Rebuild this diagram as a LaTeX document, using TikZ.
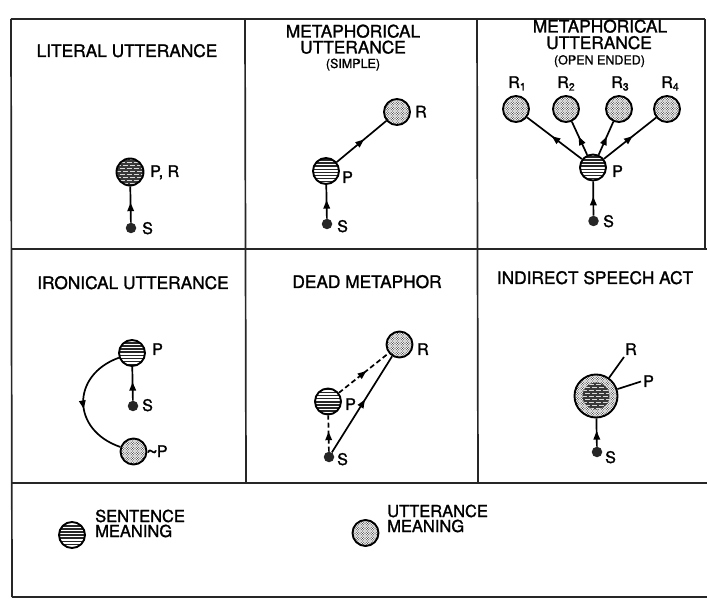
\documentclass[tikz,border=0pt]{standalone}
\usepackage{fontspec}
\setmainfont{TeX Gyre Heros}[FakeBold=1.4]
\usetikzlibrary{arrows.meta,decorations.markings,patterns}

% horizontal stripes for sentence meaning
\pgfdeclarepatternformonly{hstripes}{\pgfpointorigin}{\pgfqpoint{100pt}{1.5pt}}{\pgfqpoint{100pt}{3.1pt}}{%
  \pgfsetlinewidth{1.5pt}%
  \pgfpathmoveto{\pgfqpoint{0pt}{0.75pt}}\pgfpathlineto{\pgfqpoint{100pt}{0.75pt}}\pgfusepath{stroke}}
% staggered short dashes (light on dark)
\pgfdeclarepatternformonly{wdash}{\pgfpointorigin}{\pgfqpoint{7pt}{4pt}}{\pgfqpoint{7pt}{6pt}}{%
  \pgfsetlinewidth{1pt}%
  \pgfpathmoveto{\pgfqpoint{0.5pt}{0.5pt}}\pgfpathlineto{\pgfqpoint{5.5pt}{0.5pt}}%
  \pgfpathmoveto{\pgfqpoint{0pt}{3.5pt}}\pgfpathlineto{\pgfqpoint{2pt}{3.5pt}}%
  \pgfpathmoveto{\pgfqpoint{4pt}{3.5pt}}\pgfpathlineto{\pgfqpoint{7pt}{3.5pt}}%
  \pgfusepath{stroke}}
% dotted mesh for utterance meaning
\pgfdeclarepatternformonly{dotmesh}{\pgfqpoint{-1pt}{-1pt}}{\pgfqpoint{3pt}{3pt}}{\pgfqpoint{2.5pt}{2.5pt}}{%
  \pgfpathcircle{\pgfqpoint{0pt}{0pt}}{0.65pt}%
  \pgfpathcircle{\pgfqpoint{1.25pt}{1.25pt}}{0.65pt}%
  \pgfusepath{fill}}

\tikzset{
  frame/.style={line width=1.7pt, black!85},
  sent/.style={circle, draw, line width=1.9pt, minimum size=26pt, inner sep=0pt, pattern=hstripes, pattern color=black!85},
  sentdark/.style={circle, draw, line width=1.9pt, minimum size=27pt, inner sep=0pt,
    preaction={fill=black!78}, pattern=wdash, pattern color=white!85!black},
  utt/.style={circle, draw, line width=1.9pt, minimum size=26pt, inner sep=0pt, pattern=dotmesh, pattern color=black!72},
  sdot/.style={circle, fill=black!85, inner sep=0pt, minimum size=10.5pt},
  lbl/.style={font=\fontsize{16}{16}\selectfont, inner sep=0pt, anchor=base west},
  ttl/.style={font=\fontsize{17.3}{16}\selectfont, inner sep=0pt, anchor=base},
  subttl/.style={font=\fontsize{12.5}{12}\selectfont, inner sep=0pt, anchor=base},
  legtxt/.style={font=\fontsize{16.5}{15}\selectfont, inner sep=0pt, anchor=base west, align=left},
  link/.style={line width=1.7pt, postaction=decorate,
    decoration={markings, mark=at position 0.55 with {\arrow{Triangle[length=8.5pt,width=6.5pt]}}}},
  plain/.style={line width=1.7pt},
  dashlink/.style={link, dash pattern=on 5pt off 3pt}
}
\newcommand{\Rsub}[1]{R\raisebox{-2.5pt}{\fontsize{10.5}{10}\selectfont #1}}

\begin{document}
\begin{tikzpicture}[x=1pt, y=-1pt]
\useasboundingbox (0,0) rectangle (707,601);

% ---- frame ----
\draw[frame] (11,19) -- (705,19);
\draw[frame] (705,19) -- (705,249);
\draw[frame] (11,19) -- (12,597);
\draw[frame] (12,597) -- (707,597);
\draw[frame] (11,249) -- (707,249);
\draw[frame] (12,483) -- (707,483);
\draw[frame] (245,19) -- (246,483);
\draw[frame] (477,19) -- (478,483);

% ---- literal utterance ----
\node[ttl] (t1) at (127,57) {LITERAL UTTERANCE};
\node[sentdark] (a-p) at (130,172) {};
\node[sdot] (a-s) at (131,228) {};
\node[lbl] (a-pl) at (150,177) {P, R};
\node[lbl] (a-sl) at (142,234) {S};
\draw[link] (a-s) -- (a-p);

% ---- metaphorical utterance (simple) ----
\node[ttl] (t2a) at (353,37.5) {METAPHORICAL};
\node[ttl] (t2b) at (353,53.5) {UTTERANCE};
\node[subttl] (t2c) at (353,68) {(SIMPLE)};
\node[utt] (b-r) at (397,112) {};
\node[sent] (b-p) at (326,171) {};
\node[sdot] (b-s) at (327,224) {};
\node[lbl] (b-rl) at (415,117.5) {R};
\node[lbl] (b-pl) at (342,183) {P};
\node[lbl] (b-sl) at (337,232) {S};
\draw[link] (b-s) -- (b-p);
\draw[link] (b-p) -- (b-r);

% ---- metaphorical utterance (open ended) ----
\node[ttl] (t3a) at (600,32.5) {METAPHORICAL};
\node[ttl] (t3b) at (599,49) {UTTERANCE};
\node[subttl] (t3c) at (599.5,64.5) {(OPEN ENDED)};
\node[utt] (c-r1) at (516,109) {};
\node[utt] (c-r2) at (566,109) {};
\node[utt] (c-r3) at (619,109) {};
\node[utt] (c-r4) at (667,109) {};
\node[lbl, anchor=base] (c-l1) at (517,88) {\Rsub{1}};
\node[lbl, anchor=base] (c-l2) at (566,88) {\Rsub{2}};
\node[lbl, anchor=base] (c-l3) at (620,88) {\Rsub{3}};
\node[lbl, anchor=base] (c-l4) at (670,88) {\Rsub{4}};
\node[sent] (c-p) at (593,167.5) {};
\node[sdot] (c-s) at (593.5,221) {};
\node[lbl] (c-pl) at (612,177) {P};
\node[lbl] (c-sl) at (603,227) {S};
\draw[link] (c-s) -- (c-p);
\foreach \k in {1,...,4} \draw[link] (c-p) -- (c-r\k);

% ---- ironical utterance ----
\node[ttl] (t4) at (133,289) {IRONICAL UTTERANCE};
\node[sent] (d-p) at (132,353) {};
\node[sdot] (d-s) at (133,406) {};
\node[utt] (d-n) at (133.5,451.5) {};
\node[lbl] (d-pl) at (152,355) {P};
\node[lbl] (d-sl) at (142,411) {S};
\node[lbl] (d-nl) at (146,457) {\raisebox{-1.5pt}{\fontsize{20}{20}\selectfont\char"007E}\kern-1ptP};
\draw[link] (d-s) -- (d-p);
\draw[link] (d-p) .. controls (71,375) and (71,430) .. (d-n);

% ---- dead metaphor ----
\node[ttl] (t5) at (367,288) {DEAD METAPHOR};
\node[utt] (e-r) at (399.5,344.5) {};
\node[sent] (e-p) at (328,401.5) {};
\node[sdot] (e-s) at (329,457) {};
\node[lbl] (e-rl) at (417,355) {R};
\node[lbl] (e-pl) at (345,410) {P};
\node[lbl] (e-sl) at (337,465) {S};
\draw[dashlink] (e-s) -- (e-p);
\draw[dashlink] (e-p) -- (e-r);
\draw[link] (e-s) -- (e-r);

% ---- indirect speech act ----
\node[ttl] (t6) at (595,284) {INDIRECT SPEECH ACT};
\node[utt, minimum size=43pt] (f-o) at (596,396) {};
\node[sentdark, draw=none, minimum size=27pt] (f-i) at (596,396) {};
\node[sdot] (f-s) at (597,452) {};
\coordinate (f-rend) at (624,357);
\coordinate (f-pend) at (641,381.5);
\node[lbl] (f-rl) at (625,355) {R};
\node[lbl] (f-pl) at (643,387) {P};
\node[lbl] (f-sl) at (605,463) {S};
\draw[plain] (f-o) -- (f-rend);
\draw[plain] (f-o) -- (f-pend);
\draw[link] (f-s) -- (f-o);

% ---- legend ----
\node[sent] (g-s) at (72,535) {};
\node[legtxt] (g-st) at (95,537) {SENTENCE\\MEANING};
\node[utt] (g-u) at (365.5,533) {};
\node[legtxt] (g-ut) at (387,532) {UTTERANCE\\MEANING};
\end{tikzpicture}
\end{document}
